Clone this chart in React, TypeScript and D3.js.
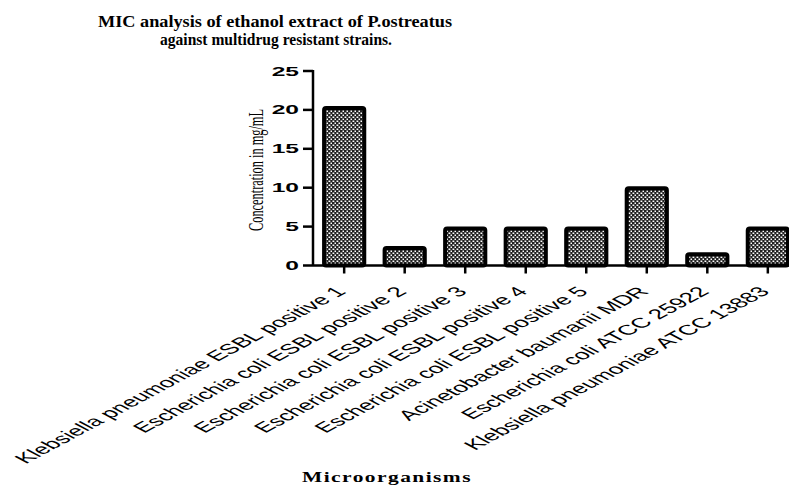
import * as d3 from "d3";
import React, { useEffect, useRef } from "react";

const categories = [
    "Klebsiella pneumoniae ESBL positive 1",
    "Escherichia coli ESBL positive 2",
    "Escherichia coli ESBL positive 3",
    "Escherichia coli ESBL positive 4",
    "Escherichia coli ESBL positive 5",
    "Acinetobacter baumanii MDR",
    "Escherichia coli ATCC 25922",
    "Klebsiella pneumoniae ATCC 13883",
];
const mic = [20.5, 2.5, 5, 5, 5, 10.2, 1.7, 5];
const yTicks = [0, 5, 10, 15, 20, 25];
const titleLines = ["MIC analysis of ethanol extract of P.ostreatus", "against multidrug resistant strains."];

export default function App() {
    const ref = useRef<SVGSVGElement>(null);

    useEffect(() => {
        const svg = d3.select(ref.current);
        svg.selectAll("*").remove();

        const x = d3.scaleBand().domain(categories).range([313, 799]).paddingInner(0.27).paddingOuter(0.15);
        const y = d3.scaleLinear().domain([0, 25]).range([265.5, 71]);

        // fine mesh fill like the prism hatch
        const pat = svg.append("defs").append("pattern")
            .attr("id", "hatch")
            .attr("patternUnits", "userSpaceOnUse")
            .attr("width", 4)
            .attr("height", 4);
        pat.append("rect").attr("width", 4).attr("height", 4).attr("fill", "#222");
        pat.append("rect").attr("x", 0.5).attr("y", 0.5).attr("width", 1.8).attr("height", 1.5).attr("fill", "#fff");
        pat.append("rect").attr("x", 2.5).attr("y", 2.5).attr("width", 1.8).attr("height", 1.5).attr("fill", "#fff");

        const sw = 4;
        svg.append("g")
            .selectAll("rect")
            .data(mic)
            .join("rect")
            .attr("x", (d, i) => x(categories[i])! + sw / 2)
            .attr("width", x.bandwidth() - sw)
            .attr("y", (d) => y(d) + sw / 2)
            .attr("height", (d) => y(0) - y(d) - sw / 2)
            .attr("rx", 2)
            .attr("fill", "url(#hatch)")
            .attr("stroke", "#000")
            .attr("stroke-width", sw);

        // axes
        const axisX = y.range()[0];
        svg.append("line")
            .attr("x1", 303).attr("x2", 789)
            .attr("y1", axisX).attr("y2", axisX)
            .attr("stroke", "#000").attr("stroke-width", 2.5);
        svg.append("line")
            .attr("x1", 313).attr("x2", 313)
            .attr("y1", y(25) - 1).attr("y2", axisX)
            .attr("stroke", "#000").attr("stroke-width", 2.5);

        svg.append("g")
            .selectAll("line")
            .data(yTicks.slice(1))
            .join("line")
            .attr("x1", 303).attr("x2", 313)
            .attr("y1", (d) => y(d)).attr("y2", (d) => y(d))
            .attr("stroke", "#000").attr("stroke-width", 2.5);

        svg.append("g")
            .selectAll("text")
            .data(yTicks)
            .join("text")
            .attr("transform", (d) => `translate(299,${y(d) + 4.5}) scale(2.05,1)`)
            .attr("text-anchor", "end")
            .style("font-family", "'Liberation Sans', Arial, sans-serif")
            .style("font-weight", "bold")
            .style("font-size", "12px")
            .text((d) => d);

        svg.append("g")
            .selectAll("line")
            .data(categories)
            .join("line")
            .attr("x1", (d) => x(d)! + x.bandwidth() / 2)
            .attr("x2", (d) => x(d)! + x.bandwidth() / 2)
            .attr("y1", axisX).attr("y2", axisX + 8)
            .attr("stroke", "#000").attr("stroke-width", 2.5);

        svg.append("g")
            .selectAll("text")
            .data(categories)
            .join("text")
            .attr("transform", (d) => `translate(${x(d)! + x.bandwidth() / 2 + 3},${axisX + 27}) scale(1.87,1) rotate(-45)`)
            .attr("text-anchor", "end")
            .style("font-family", "'Liberation Sans', Arial, sans-serif")
            .style("font-size", "14px")
            .text((d) => d);

        // y title
        svg.append("text")
            .attr("transform", "translate(263,170) rotate(-90)")
            .attr("text-anchor", "middle")
            .attr("textLength", 122)
            .attr("lengthAdjust", "spacingAndGlyphs")
            .style("font-family", "'Liberation Serif', 'Times New Roman', serif")
            .style("font-size", "20px")
            .text("Concentration in mg/mL");

        // x title
        svg.append("text")
            .attr("x", 302)
            .attr("y", 482)
            .attr("textLength", 170)
            .attr("lengthAdjust", "spacingAndGlyphs")
            .style("font-family", "'Liberation Serif', 'Times New Roman', serif")
            .style("font-weight", "bold")
            .style("font-size", "15px")
            .style("letter-spacing", "1px")
            .text("Microorganisms");

        // title
        svg.append("g")
            .selectAll("text")
            .data(titleLines)
            .join("text")
            .attr("x", (d, i) => (i === 0 ? 98 : 160))
            .attr("y", (d, i) => 27 + i * 18)
            .attr("textLength", (d, i) => (i === 0 ? 354 : 232))
            .attr("lengthAdjust", "spacingAndGlyphs")
            .style("font-family", "'Liberation Serif', 'Times New Roman', serif")
            .style("font-weight", "bold")
            .style("font-size", "17px")
            .text((d) => d);
    }, []);

    return <svg ref={ref} width={789} height={486} style={{ position: "absolute", left: 0, top: 0, background: "#fff" }} />;
}
